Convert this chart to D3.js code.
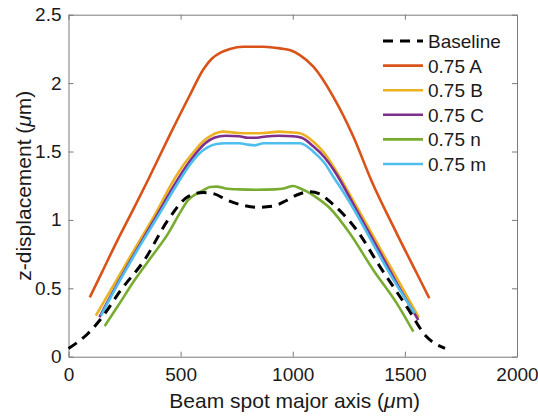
<!DOCTYPE html>
<html>
<head>
<meta charset="utf-8">
<script src="https://cdn.jsdelivr.net/npm/d3@7"></script>
<style>
  body { margin: 0; background: #fff; }
  text { font-family: "Liberation Sans", Arial, sans-serif; fill: #1a1a1a; }
</style>
</head>
<body>
<script>
// z-displacement along the beam spot major axis

// Data (x in um, y in um)
var baseX = [0, 87, 146, 235, 340, 444, 533, 601, 650, 705, 770, 839, 910, 970, 1018, 1077, 1120, 1166, 1285, 1389, 1508, 1597, 1679];
var baseY = [0.06, 0.17, 0.28, 0.49, 0.71, 1.0, 1.17, 1.2, 1.19, 1.146, 1.11, 1.092, 1.10, 1.14, 1.182, 1.206, 1.19, 1.133, 0.926, 0.658, 0.366, 0.146, 0.061];

var aX = [95, 150, 221, 290, 354, 453, 542, 601, 640, 680, 720, 779, 869, 943, 990, 1032, 1092, 1181, 1270, 1350, 1464, 1553, 1609];
var aY = [0.434, 0.62, 0.86, 1.08, 1.29, 1.625, 1.915, 2.10, 2.18, 2.225, 2.25, 2.266, 2.266, 2.254, 2.24, 2.205, 2.12, 1.90, 1.61, 1.29, 0.90, 0.61, 0.427];

var bX = [122, 200, 300, 400, 458, 512, 560, 601, 640, 690, 760, 810, 870, 940, 990, 1032, 1092, 1140, 1181, 1285, 1400, 1490, 1562];
var bY = [0.30, 0.52, 0.80, 1.08, 1.26, 1.40, 1.50, 1.575, 1.62, 1.645, 1.635, 1.633, 1.635, 1.645, 1.64, 1.633, 1.572, 1.49, 1.39, 1.097, 0.76, 0.50, 0.288];

var cX = [138, 200, 300, 400, 470, 520, 570, 610, 650, 700, 760, 800, 840, 880, 940, 1000, 1040, 1090, 1140, 1185, 1285, 1400, 1480, 1560];
var cY = [0.29, 0.48, 0.77, 1.05, 1.25, 1.38, 1.49, 1.56, 1.60, 1.615, 1.612, 1.60, 1.60, 1.61, 1.615, 1.612, 1.60, 1.54, 1.46, 1.36, 1.07, 0.73, 0.49, 0.268];

var nX = [161, 220, 295, 370, 444, 500, 533, 570, 600, 631, 660, 700, 760, 840, 920, 960, 1002, 1032, 1060, 1100, 1166, 1255, 1359, 1464, 1538];
var nY = [0.224, 0.37, 0.56, 0.73, 0.90, 1.06, 1.145, 1.19, 1.215, 1.24, 1.243, 1.23, 1.223, 1.22, 1.223, 1.23, 1.248, 1.231, 1.21, 1.17, 1.085, 0.90, 0.634, 0.39, 0.183];

var mX = [145, 200, 300, 400, 488, 540, 580, 620, 660, 700, 760, 800, 830, 870, 940, 1000, 1032, 1092, 1140, 1181, 1250, 1360, 1450, 1544];
var mY = [0.30, 0.47, 0.76, 1.03, 1.27, 1.40, 1.48, 1.53, 1.555, 1.56, 1.56, 1.55, 1.545, 1.56, 1.56, 1.56, 1.56, 1.499, 1.42, 1.316, 1.14, 0.82, 0.56, 0.317];

var seriesNames = ["Baseline", "0.75 A", "0.75 B", "0.75 C", "0.75 n", "0.75 m"];
var seriesColors = ["#000000", "#D95319", "#EDB120", "#7E2F8E", "#77AC30", "#4DBEEE"];
var xTicks = [0, 500, 1000, 1500, 2000];
var yTicks = [0, 0.5, 1, 1.5, 2, 2.5];

window.onload = function() {
  var w = 538;
  var h = 418;
  var left = 68.5, right = 517, top = 14.7, bottom = 356.7;

  var svg = d3.select("body").append("svg").attr("width", w).attr("height", h);

  var xScale = d3.scaleLinear().domain([0, 2000]).range([left, right]);
  var yScale = d3.scaleLinear().domain([0, 2.5]).range([bottom, top]);

  // Box around the plot with ticks pointing inwards on all four sides
  var axisColor = "#7a7a7a";
  var xAxisB = d3.axisBottom(xScale).tickValues(xTicks).tickSizeInner(-5).tickSizeOuter(0).tickPadding(11)
                 .tickFormat(d3.format("d"));
  var xAxisT = d3.axisTop(xScale).tickValues(xTicks).tickSizeInner(-5).tickSizeOuter(0).tickFormat("");
  var yAxisL = d3.axisLeft(yScale).tickValues(yTicks).tickSizeInner(-5).tickSizeOuter(0).tickPadding(7)
                 .tickFormat(function(d) { return d; });
  var yAxisR = d3.axisRight(yScale).tickValues(yTicks).tickSizeInner(-5).tickSizeOuter(0).tickFormat("");

  var gB = svg.append("g").attr("transform", "translate(0," + bottom + ")").call(xAxisB);
  var gT = svg.append("g").attr("transform", "translate(0," + top + ")").call(xAxisT);
  var gL = svg.append("g").attr("transform", "translate(" + left + ",0)").call(yAxisL);
  var gR = svg.append("g").attr("transform", "translate(" + right + ",0)").call(yAxisR);

  [gB, gT, gL, gR].forEach(function(g) {
    g.select(".domain").attr("stroke", axisColor).attr("stroke-width", 1);
    g.selectAll(".tick line").attr("stroke", axisColor).attr("stroke-width", 1);
    g.selectAll(".tick text").style("font-size", "19px").attr("fill", "#1a1a1a")
     .style("font-family", "'Liberation Sans', Arial, sans-serif");
  });

  // Axis labels
  var xl = svg.append("text").attr("x", (left + right) / 2 + 2).attr("y", 408)
     .attr("text-anchor", "middle").style("font-size", "21px");
  xl.append("tspan").text("Beam spot major axis (");
  xl.append("tspan").text("\u03bc").style("font-style", "italic");
  xl.append("tspan").text("m)");

  var yl = svg.append("text").attr("transform", "translate(31," + ((top + bottom) / 2) + ") rotate(-90)")
     .attr("text-anchor", "middle").style("font-size", "21px");
  yl.append("tspan").text("z-displacement (");
  yl.append("tspan").text("\u03bc").style("font-style", "italic");
  yl.append("tspan").text("m)");

  // Lines
  var allX = [baseX, aX, bX, cX, nX, mX];
  var allY = [baseY, aY, bY, cY, nY, mY];
  var line = d3.line()
               .x(function(d) { return xScale(d[0]); })
               .y(function(d) { return yScale(d[1]); })
               .curve(d3.curveMonotoneX);

  // draw coloured lines first, baseline on top
  var order = [1, 2, 3, 5, 4, 0];
  order.forEach(function(i) {
    var pts = d3.zip(allX[i], allY[i]);
    var p = svg.append("path").datum(pts).attr("d", line)
       .attr("fill", "none").attr("stroke", seriesColors[i])
       .attr("stroke-width", i == 0 ? 3 : 2.6).attr("stroke-linejoin", "round");
    if (i == 0) p.attr("stroke-dasharray", "10,7");
  });

  // Legend (no box)
  var legX = 383, legY = 41, legStep = 24.6;
  seriesNames.forEach(function(name, i) {
    var yy = legY + i * legStep;
    var l = svg.append("line").attr("x1", legX).attr("x2", legX + 40)
       .attr("y1", yy).attr("y2", yy)
       .attr("stroke", seriesColors[i]).attr("stroke-width", i == 0 ? 3 : 2.6);
    if (i == 0) l.attr("stroke-dasharray", "10,7");
    svg.append("text").attr("x", legX + 45).attr("y", yy + 7)
       .style("font-size", "19px").text(name);
  });
};
</script>
</body>
</html>
